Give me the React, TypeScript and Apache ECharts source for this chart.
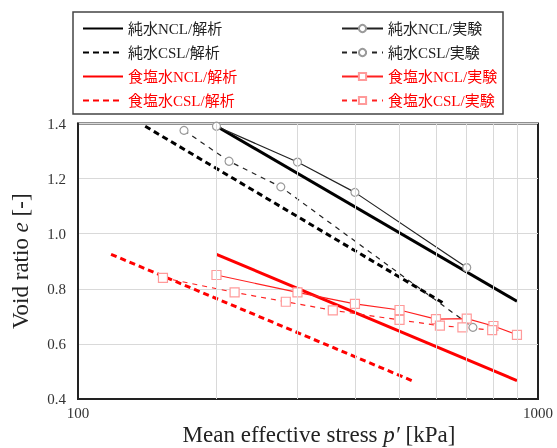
import React, { useEffect, useRef } from "react";
import * as echarts from "echarts";

// ---- data (p' in kPa, e) ----
const pureNCLAnaP = [200, 900];
const pureNCLAnaE = [1.39, 0.755];
const pureCSLAnaP = [140, 620];
const pureCSLAnaE = [1.39, 0.75];
const saltNCLAnaP = [200, 900];
const saltNCLAnaE = [0.925, 0.467];
const saltCSLAnaP = [118, 535];
const saltCSLAnaE = [0.925, 0.465];

const pureNCLExpP = [200, 300, 400, 700];
const pureNCLExpE = [1.39, 1.26, 1.15, 0.877];
const pureCSLExpP = [170, 213, 276, 722];
const pureCSLExpE = [1.375, 1.263, 1.17, 0.66];
const saltNCLExpP = [200, 300, 400, 500, 600, 700, 800, 900];
const saltNCLExpE = [0.85, 0.787, 0.745, 0.723, 0.69, 0.692, 0.665, 0.633];
const saltCSLExpP = [153, 219, 283, 358, 500, 612, 685, 795];
const saltCSLExpE = [0.84, 0.787, 0.753, 0.722, 0.687, 0.666, 0.66, 0.65];

const minorGridP = [200, 300, 400, 500, 600, 700, 800, 900];
const yTicks = [0.4, 0.6, 0.8, 1.0, 1.2, 1.4];

const names = {
  pNA: "純水NCL/解析",
  pCA: "純水CSL/解析",
  sNA: "食塩水NCL/解析",
  sCA: "食塩水CSL/解析",
  pNE: "純水NCL/実験",
  pCE: "純水CSL/実験",
  sNE: "食塩水NCL/実験",
  sCE: "食塩水CSL/実験",
};

const FONT = "'Liberation Serif', 'Noto Sans CJK JP', serif";

function zip(xs: number[], ys: number[]) {
  return xs.map((x, i) => [x, ys[i]]);
}

export default function App() {
  const ref = useRef<HTMLDivElement>(null);
  useEffect(() => {
    if (!ref.current) return;
    const chart = echarts.init(ref.current, undefined, { renderer: "svg" });

    const ana = (name: string, p: number[], e: number[], color: string, dashed: boolean) => ({
      name,
      type: "line",
      data: zip(p, e),
      symbol: "none",
      z: 3,
      itemStyle: { color },
      lineStyle: { color, width: 3, type: dashed ? [6, 4] : "solid" },
    });
    const exp = (
      name: string,
      p: number[],
      e: number[],
      lineColor: string,
      markColor: string,
      symbol: string,
      dashed: boolean
    ) => ({
      name,
      type: "line",
      data: zip(p, e),
      symbol,
      symbolSize: symbol === "rect" ? 9 : 8,
      z: 4,
      itemStyle: { color: "#ffffff", borderColor: markColor, borderWidth: 1.2 },
      lineStyle: { color: lineColor, width: 1.2, type: dashed ? [5, 5] : "solid" },
    });

    const legendText = (n: string, c: string) => ({ name: n, textStyle: { color: c } });
    const legendAna = (n: string, c: string) => ({
      name: n,
      textStyle: { color: c },
      itemStyle: { opacity: 0 },
    });

    chart.setOption({
      animation: false,
      textStyle: { fontFamily: FONT },
      grid: {
        left: 78,
        right: 19,
        top: 123.5,
        bottom: 49,
        outerBoundsMode: "none",
        containLabel: false,
        show: true,
        borderColor: "#222",
        borderWidth: 2,
        backgroundColor: "transparent",
      },
      legend: [
        {
          left: 82,
          top: 21,
          padding: 0,
          orient: "vertical",
          itemWidth: 40,
          itemHeight: 9,
          itemGap: 9,
          textStyle: { fontFamily: FONT, fontSize: 15, color: "#222" },
          data: [
            legendAna(names.pNA, "#222"),
            legendAna(names.pCA, "#222"),
            legendAna(names.sNA, "#ff0000"),
            legendAna(names.sCA, "#ff0000"),
          ],
        },
        {
          left: 341,
          top: 21,
          padding: 0,
          orient: "vertical",
          itemWidth: 41,
          itemHeight: 9,
          itemGap: 9,
          textStyle: { fontFamily: FONT, fontSize: 15, color: "#222" },
          data: [
            legendText(names.pNE, "#222"),
            legendText(names.pCE, "#222"),
            legendText(names.sNE, "#ff0000"),
            legendText(names.sCE, "#ff0000"),
          ],
        },
      ],
      graphic: [
        {
          type: "rect",
          shape: { x: 73, y: 12, width: 430, height: 102 },
          style: { fill: "none", stroke: "#444", lineWidth: 1.5 },
          z: 0,
        },
      ],
      xAxis: {
        type: "log",
        logBase: 10,
        min: 100,
        max: 1000,
        name: "Mean effective stress {i|p′} [kPa]",
        nameLocation: "middle",
        nameGap: 24,
        nameMoveOverlap: false,
        nameTextStyle: {
          fontFamily: FONT,
          fontSize: 23,
          color: "#222",
          padding: [0, 0, 0, 22],
          rich: { i: { fontFamily: FONT, fontSize: 23, fontStyle: "italic", color: "#222" } },
        },
        axisLine: { show: true, lineStyle: { color: "#222", width: 2 } },
        axisTick: { show: false },
        splitLine: { show: false },
        axisLabel: {
          fontFamily: FONT,
          fontSize: 15,
          color: "#333",
          margin: 6,
          formatter: (v: number) => String(Math.round(v)),
        },
      },
      yAxis: {
        type: "value",
        min: yTicks[0],
        max: yTicks[yTicks.length - 1],
        interval: 0.2,
        name: "Void ratio {i|e} [-]",
        nameLocation: "middle",
        nameGap: 46,
        nameMoveOverlap: false,
        nameTextStyle: {
          fontFamily: FONT,
          fontSize: 23,
          color: "#222",
          rich: { i: { fontFamily: FONT, fontSize: 23, fontStyle: "italic", color: "#222" } },
        },
        axisLine: { show: true, lineStyle: { color: "#222", width: 2 } },
        axisTick: { show: false },
        splitLine: { show: true, lineStyle: { color: "#d9d9d9", width: 1 } },
        axisLabel: {
          fontFamily: FONT,
          fontSize: 15,
          color: "#333",
          margin: 12,
          formatter: (v: number) => v.toFixed(1),
        },
      },
      series: [
        {
          name: "grid-minor",
          type: "line",
          data: [],
          z: 1,
          silent: true,
          markLine: {
            silent: true,
            symbol: "none",
            label: { show: false },
            lineStyle: { color: "#d9d9d9", width: 1, type: "solid" },
            data: minorGridP.map((p) => ({ xAxis: p })),
          },
        },
        ana(names.pNA, pureNCLAnaP, pureNCLAnaE, "#000000", false),
        ana(names.pCA, pureCSLAnaP, pureCSLAnaE, "#000000", true),
        ana(names.sNA, saltNCLAnaP, saltNCLAnaE, "#ff0000", false),
        ana(names.sCA, saltCSLAnaP, saltCSLAnaE, "#ff0000", true),
        exp(names.pNE, pureNCLExpP, pureNCLExpE, "#222222", "#9a9a9a", "circle", false),
        exp(names.pCE, pureCSLExpP, pureCSLExpE, "#222222", "#9a9a9a", "circle", true),
        exp(names.sNE, saltNCLExpP, saltNCLExpE, "#ff2020", "#ff9a9a", "rect", false),
        exp(names.sCE, saltCSLExpP, saltCSLExpE, "#ff2020", "#ff9a9a", "rect", true),
      ],
    });
    return () => chart.dispose();
  }, []);
  return (
    <div
      ref={ref}
      style={{ position: "fixed", left: 0, top: 0, width: 557, height: 448 }}
    />
  );
}
